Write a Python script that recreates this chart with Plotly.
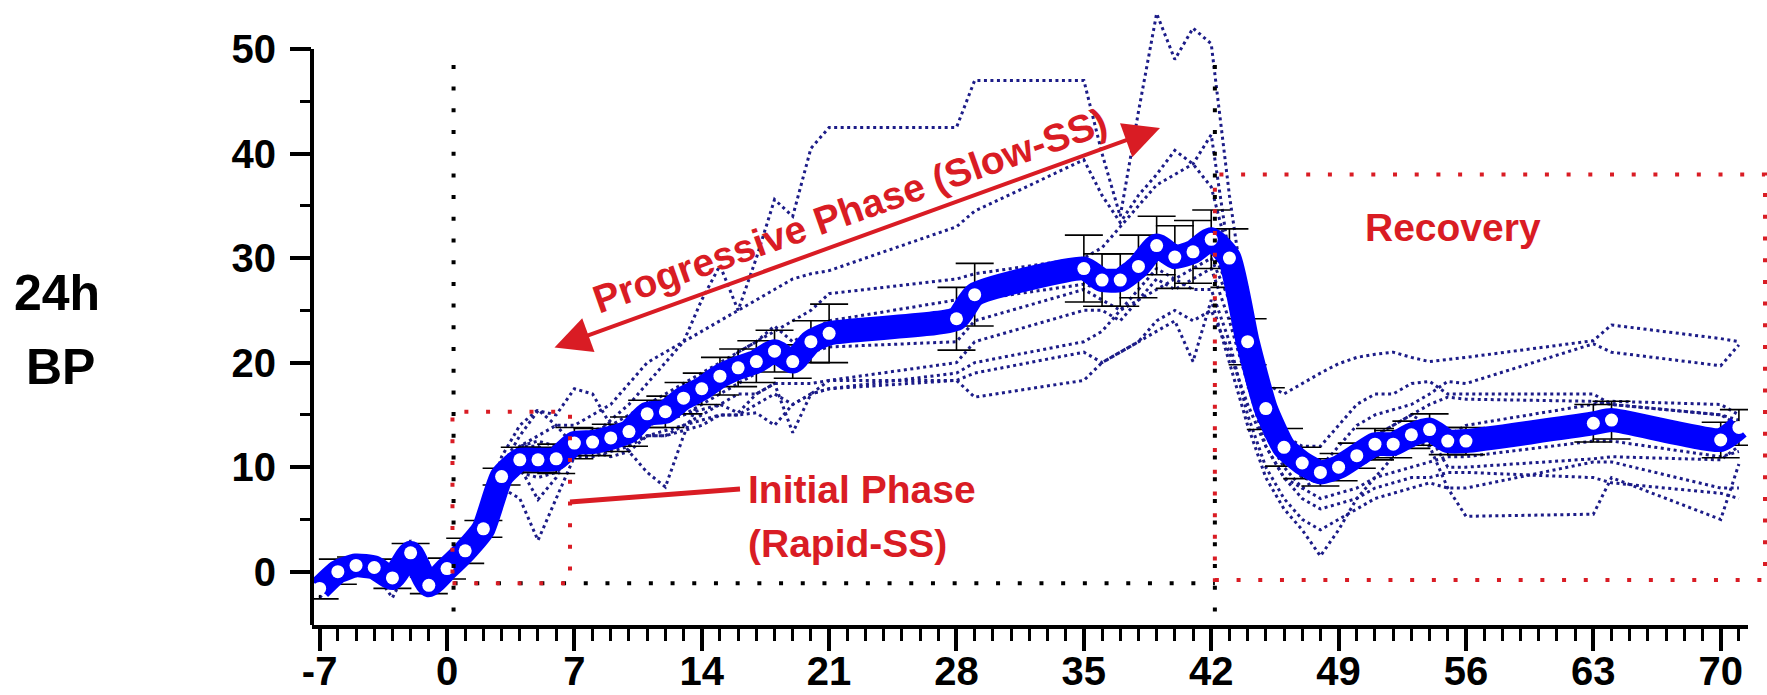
import plotly.graph_objects as go

# ---------------- data ----------------
days = [-7, -6, -5, -4, -3, -2, -1, 0,
        1, 2, 3, 4, 5, 6, 7, 8, 9, 10, 11, 12, 13, 14, 15, 16, 17, 18, 19, 20, 21,
        28, 29,
        35, 36, 37, 38, 39, 40, 41, 42, 43, 44, 45, 46, 47, 48, 49, 50, 51, 52, 53, 54, 55, 56,
        63, 64, 70, 71]

mean_bp = [-1.6, 0.0, 0.6, 0.4, -0.6, 1.8, -1.3, 0.3,
           2.0, 4.1, 9.1, 10.7, 10.7, 10.8, 12.3, 12.4, 12.8, 13.4, 15.1, 15.3, 16.6, 17.5, 18.7, 19.5, 20.1, 21.1, 20.1, 22.0, 22.8,
           24.2, 26.5,
           29.0, 27.9, 27.9, 29.2, 31.2, 30.1, 30.6, 31.8, 30.0, 22.0, 15.6, 11.9, 10.4, 9.5, 10.0, 11.1, 12.2, 12.2, 13.1, 13.6, 12.5, 12.5,
           14.2, 14.5, 12.6, 13.8]

sem_bp = [1.0, 1.2, 0.8, 0.8, 1.0, 0.9, 0.8, 1.0,
          1.2, 0.8, 0.8, 1.2, 1.2, 1.4, 1.5, 1.3, 1.3, 1.4, 1.3, 1.5, 1.5, 1.5, 1.8, 1.8, 2.0, 2.0, 1.6, 2.0, 2.8,
          3.0, 3.0,
          3.2, 2.5, 2.5, 3.0, 2.8, 3.0, 3.0, 2.8, 2.8, 2.2, 2.0, 1.8, 1.5, 1.3, 1.3, 1.2, 1.5, 1.3, 1.3, 1.5, 1.3, 1.3,
          1.8, 1.8, 1.7, 1.7]

subj_01 = [-1.0, 1.0, 1.5, 1.0, 0.0, 2.0, -1.0, 1.0,
           2.0, 5.0, 11.0, 14.0, 15.5, 14.0, 12.0, 13.0, 14.5, 16.0, 18.0, 20.0, 22.0, 26.0, 29.3, 25.0, 30.0, 35.6, 34.0, 40.5, 42.5,
           42.5, 47.0,
           47.0, 40.0, 34.0, 44.0, 53.4, 49.0, 52.0, 50.5, 36.0, 24.0, 17.0, 13.0, 12.0, 12.0, 14.0, 16.0, 17.0, 17.0, 18.0, 18.2, 17.0, 17.0,
           17.0, 16.0, 15.0, 14.0]
subj_02 = [-2.0, 0.5, 1.0, 0.5, -1.0, 3.0, -2.0, 0.0,
           1.0, 3.0, 9.0, 12.0, 13.0, 14.0, 14.0, 15.0, 16.0, 18.0, 20.0, 21.0, 22.0, 23.0, 24.0, 25.0, 26.0, 27.0, 28.0, 28.5, 28.8,
           33.0, 34.5,
           39.4, 36.0, 33.4, 36.0, 38.0, 40.3, 39.0, 36.8, 30.0, 22.0, 18.0, 17.0, 18.0, 19.0, 19.9, 20.5, 20.8, 21.0, 20.5, 20.1, 20.3, 20.5,
           22.1, 23.6, 22.3, 22.0]
subj_03 = [-2.5, -0.5, 0.0, 0.0, -1.5, 1.5, -1.5, 0.5,
           2.5, 4.0, 10.0, 13.0, 15.4, 15.0, 17.5, 17.0, 14.0, 11.5, 9.5, 8.1, 13.0, 17.0, 19.0, 21.0, 22.0, 23.0, 24.0, 25.0, 26.6,
           28.0, 28.5,
           30.0, 31.0, 33.0, 35.0, 37.0, 38.0, 39.0, 41.8, 30.0, 20.0, 14.0, 11.0, 10.0, 9.0, 10.0, 11.5, 13.0, 14.0, 15.0, 16.0, 16.7, 16.5,
           16.3, 16.0, 15.0, 14.5]
subj_04 = [-1.5, 1.0, 1.2, 1.3, 0.0, 2.5, -0.5, 1.0,
           2.0, 4.0, 8.0, 7.0, 3.0, 7.0, 11.0, 12.0, 12.5, 13.0, 14.0, 14.5, 15.0, 15.5, 16.0, 15.2, 17.0, 18.0, 13.3, 17.0, 18.3,
           18.3, 16.7,
           18.3, 20.0, 21.0, 22.0, 23.0, 24.0, 20.1, 26.0, 20.0, 14.0, 9.0, 6.0, 4.0, 1.5, 4.0, 7.0, 9.0, 11.0, 12.5, 12.0, 8.0, 5.3,
           5.5, 9.0, 5.0, 10.3]
subj_05 = [-1.0, 0.0, 0.5, 0.0, -2.5, 1.0, -1.5, 0.0,
           1.5, 3.5, 9.0, 10.0, 6.9, 9.0, 12.5, 12.0, 12.0, 12.5, 13.0, 13.5, 14.0, 14.5, 15.0, 15.0, 15.2, 14.0, 16.0, 17.0, 17.5,
           19.0, 20.0,
           22.0, 23.0, 25.0, 26.0, 27.0, 28.0, 27.0, 27.0, 22.0, 15.0, 10.0, 7.0, 5.0, 4.0, 5.0, 6.0, 7.0, 7.5, 8.0, 8.5, 8.0, 8.0,
           10.5, 10.5, 8.0, 8.0]
subj_06 = [-2.0, -0.5, 0.5, 0.5, 0.0, 2.0, -1.0, 0.5,
           2.0, 5.0, 10.0, 12.0, 12.0, 11.0, 13.0, 13.5, 14.0, 15.0, 16.0, 17.0, 18.0, 19.0, 20.0, 21.0, 22.0, 23.5, 22.0, 23.0, 24.0,
           26.0, 27.0,
           29.8, 28.0, 27.0, 30.0, 32.0, 30.0, 31.0, 32.0, 28.0, 22.0, 16.0, 12.0, 10.0, 10.0, 12.0, 14.0, 15.0, 15.5, 16.0, 17.0, 18.2, 18.0,
           21.8, 21.0, 19.7, 21.7]
subj_07 = [-1.5, 0.5, 0.8, 0.5, -0.5, 1.5, -1.8, 0.0,
           1.0, 3.0, 8.0, 10.0, 10.0, 10.5, 11.0, 11.0, 11.5, 12.0, 13.0, 13.0, 14.0, 15.0, 16.0, 17.0, 17.0, 18.0, 18.0, 18.0, 18.3,
           20.0, 22.0,
           25.0, 25.0, 24.0, 26.0, 28.0, 27.0, 28.0, 29.0, 24.0, 18.0, 13.0, 10.0, 8.0, 7.0, 7.5, 8.0, 9.0, 9.5, 10.0, 10.5, 11.0, 11.0,
           12.5, 12.5, 11.0, 11.5]
subj_08 = [-1.8, -0.5, 0.0, 0.2, -1.0, 1.0, -1.0, 0.3,
           2.0, 4.0, 9.0, 11.0, 11.0, 12.0, 12.0, 12.0, 13.0, 13.5, 14.0, 14.5, 15.0, 16.0, 17.0, 18.0, 19.0, 20.0, 20.5, 21.0, 21.5,
           22.0, 24.0,
           27.0, 26.0, 25.0, 27.0, 29.0, 28.0, 29.0, 30.0, 26.0, 18.0, 12.0, 9.0, 8.0, 9.0, 10.0, 12.0, 13.0, 14.0, 15.0, 14.0, 13.0, 14.0,
           16.0, 16.3, 16.0, 15.0]
subj_09 = [-1.0, 0.3, 0.5, 0.2, 0.5, 2.5, -1.2, 0.2,
           3.0, 5.0, 10.0, 12.0, 12.5, 12.0, 13.0, 13.0, 13.5, 14.0, 15.0, 15.5, 16.0, 17.0, 18.0, 19.0, 19.5, 20.0, 21.0, 22.0, 22.5,
           24.0, 26.0,
           27.5, 27.0, 27.5, 28.0, 30.0, 29.0, 30.0, 31.0, 27.0, 20.0, 14.0, 11.0, 9.0, 8.5, 9.0, 10.0, 11.0, 11.5, 12.0, 13.0, 10.0, 10.0,
           10.8, 11.0, 10.7, 12.0]
subj_10 = [-2.0, -0.2, 0.3, 0.1, -0.3, 1.2, -1.5, 0.0,
           1.0, 3.0, 8.0, 9.5, 9.0, 9.5, 11.0, 11.5, 11.0, 11.5, 13.0, 13.0, 13.5, 14.0, 15.0, 15.0, 16.0, 17.0, 16.0, 17.0, 17.5,
           18.3, 19.0,
           21.0, 20.0, 21.0, 22.0, 24.0, 25.0, 24.0, 25.0, 21.0, 16.0, 12.0, 9.0, 7.0, 6.0, 6.5, 7.0, 8.0, 8.5, 9.0, 9.0, 9.5, 9.5,
           9.0, 8.5, 7.5, 7.0]

subjects = [subj_01, subj_02, subj_03, subj_04, subj_05,
            subj_06, subj_07, subj_08, subj_09, subj_10]

x_ticks = [-7, 0, 7, 14, 21, 28, 35, 42, 49, 56, 63, 70]
x_minor = [d for d in range(-7, 72) if d % 7 != 0]
y_ticks = [0, 10, 20, 30, 40, 50]
y_minor = [5, 15, 25, 35, 45]

# ---------------- layout geometry ----------------
W, H = 1767, 695
ML, MR, MT, MB = 312, 19, 2, 70
PW, PH = W - ML - MR, H - MT - MB
X_RANGE = [-7.42, 71.5]
Y_RANGE = [-5.1, 54.5]

RED = '#d91c24'
FONT = 'Liberation Sans, Arial, sans-serif'


def px(x):
    return (x - ML) / PW


def py(y):
    return (H - MB - y) / PH


def dx(d):
    return (d - X_RANGE[0]) / (X_RANGE[1] - X_RANGE[0])


def dy(v):
    return (v - Y_RANGE[0]) / (Y_RANGE[1] - Y_RANGE[0])


fig = go.Figure()

for s in subjects:
    fig.add_trace(go.Scatter(
        x=days, y=s, mode='lines',
        line=dict(color='#1c1c88', width=3, dash='3px,3.5px'),
        hoverinfo='skip', showlegend=False))

fig.add_trace(go.Scatter(
    x=days, y=mean_bp, mode='markers',
    marker=dict(size=2, color='rgba(0,0,0,0)'),
    error_y=dict(type='data', array=sem_bp, color='black', thickness=1.6, width=19),
    showlegend=False, hoverinfo='skip'))

fig.add_trace(go.Scatter(
    x=days, y=mean_bp, mode='lines+markers',
    line=dict(color='#0000ff', width=24, shape='spline', smoothing=0.5),
    marker=dict(size=13, color='white', line=dict(width=0)),
    showlegend=False))

dot_black = dict(color='black', width=4, dash='4px,17.7px')
dot_red = dict(color=RED, width=4, dash='4px,17.7px')

shapes = [
    # y axis line (only up to 50)
    dict(type='line', xref='paper', yref='paper', x0=0, x1=0, y0=0, y1=dy(50),
         line=dict(color='black', width=4)),
    # black dotted guides
    dict(type='line', xref='x', yref='y', x0=0.36, x1=0.36, y0=-3.8, y1=49.8, line=dot_black),
    dict(type='line', xref='x', yref='y', x0=42.2, x1=42.2, y0=-3.8, y1=49.8, line=dot_black),
    dict(type='line', xref='x', yref='y', x0=0.36, x1=42.2, y0=-1.1, y1=-1.1, line=dot_black),
    # initial phase box
    dict(type='rect', xref='x', yref='y', x0=0.3, x1=6.76, y0=-1.1, y1=15.3, line=dot_red),
    # recovery box (extends past the axis end)
    dict(type='rect', xref='paper', yref='paper', x0=dx(42.2), x1=px(1765), y0=dy(-0.8), y1=dy(38.0),
         line=dot_red),
    # pointer line to "Initial Phase"
    dict(type='line', xref='paper', yref='paper', x0=px(570), y0=py(502), x1=px(740), y1=py(489),
         line=dict(color=RED, width=5)),
]


def label(x, y, text, size, color, **kw):
    d = dict(xref='paper', yref='paper', x=px(x), y=py(y), text=text, showarrow=False,
             xanchor='center', yanchor='middle',
             font=dict(family=FONT, size=size, color=color, weight='bold'))
    d.update(kw)
    return d


annotations = [
    dict(xref='paper', yref='paper', x=px(1160), y=py(128), ax=553 - 1160, ay=348 - 128,
         text='', showarrow=True, arrowside='end+start', arrowhead=2, startarrowhead=2,
         arrowsize=1.8, startarrowsize=1.8, arrowwidth=4, arrowcolor=RED),
    label(850, 211, 'Progressive Phase (Slow-SS)', 39, RED, textangle=-19.5),
    label(746, 489, 'Initial Phase', 39, RED, xanchor='left'),
    label(746, 543, '(Rapid-SS)', 39, RED, xanchor='left'),
    label(1453, 227, 'Recovery', 39, RED),
    label(57, 293, '24h', 50, 'black'),
    label(60, 367, 'BP', 50, 'black'),
]

fig.update_layout(
    width=W, height=H,
    margin=dict(l=ML, r=MR, t=MT, b=MB, pad=0, autoexpand=False),
    paper_bgcolor='white', plot_bgcolor='white',
    showlegend=False,
    shapes=shapes, annotations=annotations,
    xaxis=dict(range=X_RANGE, automargin=False, showline=True, linecolor='black', linewidth=4,
               showgrid=False, zeroline=False,
               ticks='outside', ticklen=22, tickwidth=4, tickcolor='black',
               ticklabelstandoff=-14,
               tickmode='array', tickvals=x_ticks, ticktext=[str(t) for t in x_ticks],
               tickfont=dict(family=FONT, size=40, color='black', weight='bold'),
               minor=dict(tickmode='array', tickvals=x_minor, ticks='outside',
                          ticklen=12, tickwidth=3, tickcolor='black')),
    yaxis=dict(range=Y_RANGE, automargin=False, showline=False, showgrid=False, zeroline=False,
               ticks='outside', ticklen=21, tickwidth=4, tickcolor='black',
               ticklabelstandoff=6,
               tickmode='array', tickvals=y_ticks, ticktext=[str(t) for t in y_ticks],
               tickfont=dict(family=FONT, size=40, color='black', weight='bold'),
               minor=dict(tickmode='array', tickvals=y_minor, ticks='outside',
                          ticklen=11, tickwidth=3, tickcolor='black')),
)

fig.write_html('out.html')
